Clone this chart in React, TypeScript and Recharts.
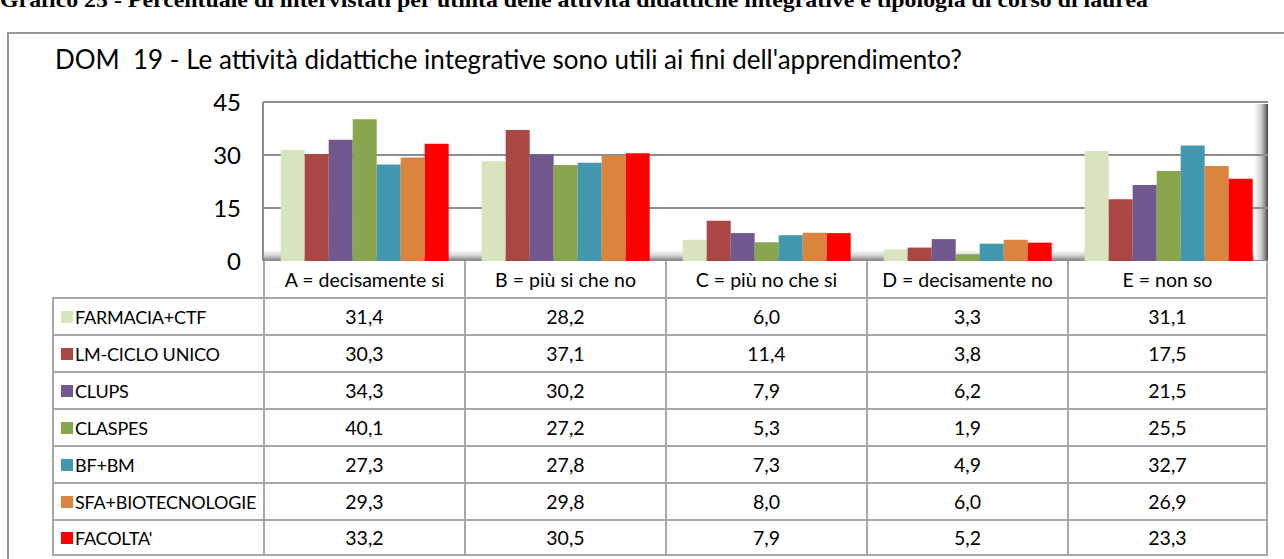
import React from 'react';
import { BarChart, Bar, XAxis, YAxis, CartesianGrid } from 'recharts';

const categories = [
  'A = decisamente si',
  'B = più si che no',
  'C = più no che si',
  'D = decisamente no',
  'E = non so',
];

const seriesNames = [
  'FARMACIA+CTF',
  'LM-CICLO UNICO',
  'CLUPS',
  'CLASPES',
  'BF+BM',
  'SFA+BIOTECNOLOGIE',
  "FACOLTA'",
];

const farmacia = [31.4, 28.2, 6.0, 3.3, 31.1];
const lmCiclo = [30.3, 37.1, 11.4, 3.8, 17.5];
const clups = [34.3, 30.2, 7.9, 6.2, 21.5];
const claspes = [40.1, 27.2, 5.3, 1.9, 25.5];
const bfbm = [27.3, 27.8, 7.3, 4.9, 32.7];
const sfa = [29.3, 29.8, 8.0, 6.0, 26.9];
const facolta = [33.2, 30.5, 7.9, 5.2, 23.3];

const yTicks = [0, 15, 30, 45];

const seriesValues = [farmacia, lmCiclo, clups, claspes, bfbm, sfa, facolta];
const colors = ['#d7e4bd', '#aa4643', '#71588f', '#89a54e', '#4198af', '#db843d', '#ff0000'];

const data = categories.map((c, i) => {
  const row: Record<string, string | number> = { cat: c };
  seriesNames.forEach((s, j) => {
    row['s' + j] = seriesValues[j][i];
  });
  return row;
});

const FONT = 'Lato, "Open Sans", sans-serif';
const LINE = '#a8a8a8';
const PLOT_L = 263;
const PLOT_R = 1268;
const COL_W = (PLOT_R - PLOT_L) / categories.length;
const HEAD_TOP = 261;
const ROW_TOP = 297;
const ROW_H = 37;
const CELL_FONT = 19.5;

const fmt = (v: number) => v.toFixed(1).replace('.', ',');

export default function App() {
  return (
    <div
      style={{
        position: 'fixed',
        left: 0,
        top: 0,
        width: 1284,
        height: 559,
        overflow: 'hidden',
        background: '#fff',
        fontFamily: FONT,
      }}
    >
      {/* cut-off heading above the box */}
      <svg style={{ position: 'absolute', left: 0, top: 0 }} width={1284} height={30}>
        <text
          x={0}
          y={7}
          fontFamily='"Liberation Serif", "Times New Roman", serif'
          fontWeight="bold"
          fontSize={21}
          textLength={1148}
          lengthAdjust="spacingAndGlyphs"
        >
          Grafico 25 - Percentuale di intervistati per utilità delle attività didattiche integrative e tipologia di corso di laurea
        </text>
      </svg>

      {/* outer box */}
      <div
        style={{
          position: 'absolute',
          left: 7,
          top: 32,
          width: 1290,
          height: 540,
          borderLeft: '2px solid #9a9a9a',
          borderTop: '2px solid #9a9a9a',
        }}
      />

      <div
        style={{
          position: 'absolute',
          left: 55,
          top: 43,
          fontSize: 26,
          lineHeight: '32px',
          whiteSpace: 'pre',
          color: '#000',
        }}
      >
        {"DOM  19 - Le attività didattiche integrative sono utili ai fini dell'apprendimento?"}
      </div>

      {/* 3D floor and right wall shading */}
      <div
        style={{
          position: 'absolute',
          left: PLOT_L,
          top: 250,
          width: PLOT_R - PLOT_L,
          height: 11,
          background: 'linear-gradient(to bottom, #ffffff 0%, #d9d9d9 45%, #a0a0a0 80%, #6d6d6d 100%)',
        }}
      />
      <div
        style={{
          position: 'absolute',
          left: PLOT_R - 14,
          top: 104,
          width: 14,
          height: 157,
          background: 'linear-gradient(to right, #ffffff 0%, #d0d0d0 50%, #7a7a7a 85%, #3c3c3c 100%)',
        }}
      />

      <div style={{ position: 'absolute', left: 0, top: 0 }}>
        <BarChart
          width={1284}
          height={280}
          data={data}
          margin={{ top: 102, right: 1284 - PLOT_R, left: 0, bottom: 19 }}
          barCategoryGap="8.8%"
          barGap={0}
        >
          <CartesianGrid vertical={false} stroke="#8e8e8e" strokeWidth={2} />
          <XAxis dataKey="cat" hide />
          <YAxis
            width={PLOT_L}
            domain={[0, 45]}
            ticks={yTicks}
            interval={0}
            tickLine={false}
            tickSize={0}
            tickMargin={22}
            axisLine={{ stroke: '#8e8e8e', strokeWidth: 2 }}
            tick={{ fontSize: 24, fill: '#000', fontFamily: FONT }}
          />
          {seriesNames.map((s, j) => (
            <Bar key={s} dataKey={'s' + j} name={s} fill={colors[j]} isAnimationActive={false} />
          ))}
        </BarChart>
      </div>

      {/* data table */}
      {categories.map((c, i) => (
        <div
          key={c}
          style={{
            position: 'absolute',
            left: PLOT_L + i * COL_W,
            top: HEAD_TOP,
            width: COL_W,
            height: ROW_TOP - HEAD_TOP,
            borderLeft: `2px solid ${LINE}`,
            borderRight: i === categories.length - 1 ? `2px solid ${LINE}` : undefined,
            boxSizing: 'border-box',
            display: 'flex',
            alignItems: 'center',
            justifyContent: 'center',
            fontSize: CELL_FONT,
            background: '#fff',
          }}
        >
          {c}
        </div>
      ))}
      {seriesNames.map((s, j) => (
        <React.Fragment key={s}>
          <div
            style={{
              position: 'absolute',
              left: 52,
              top: ROW_TOP + j * ROW_H,
              width: PLOT_L - 52,
              height: ROW_H,
              border: `2px solid ${LINE}`,
              borderRight: 'none',
              borderBottom: j === seriesNames.length - 1 ? `2px solid ${LINE}` : 'none',
              boxSizing: 'border-box',
              display: 'flex',
              alignItems: 'center',
              fontSize: 18,
              letterSpacing: -0.2,
              whiteSpace: 'pre',
              overflow: 'hidden',
            }}
          >
            <span
              style={{
                display: 'inline-block',
                flexShrink: 0,
                width: 12,
                height: 12,
                background: colors[j],
                marginLeft: 7,
                marginRight: 2,
              }}
            />
            {s}
          </div>
          {categories.map((c, i) => (
            <div
              key={c}
              style={{
                position: 'absolute',
                left: PLOT_L + i * COL_W,
                top: ROW_TOP + j * ROW_H,
                width: COL_W,
                height: ROW_H,
                borderLeft: `2px solid ${LINE}`,
                borderTop: `2px solid ${LINE}`,
                borderRight: i === categories.length - 1 ? `2px solid ${LINE}` : undefined,
                borderBottom: j === seriesNames.length - 1 ? `2px solid ${LINE}` : undefined,
                boxSizing: 'border-box',
                display: 'flex',
                alignItems: 'center',
                justifyContent: 'center',
                fontSize: CELL_FONT,
              }}
            >
              {fmt(seriesValues[j][i])}
            </div>
          ))}
        </React.Fragment>
      ))}
    </div>
  );
}
